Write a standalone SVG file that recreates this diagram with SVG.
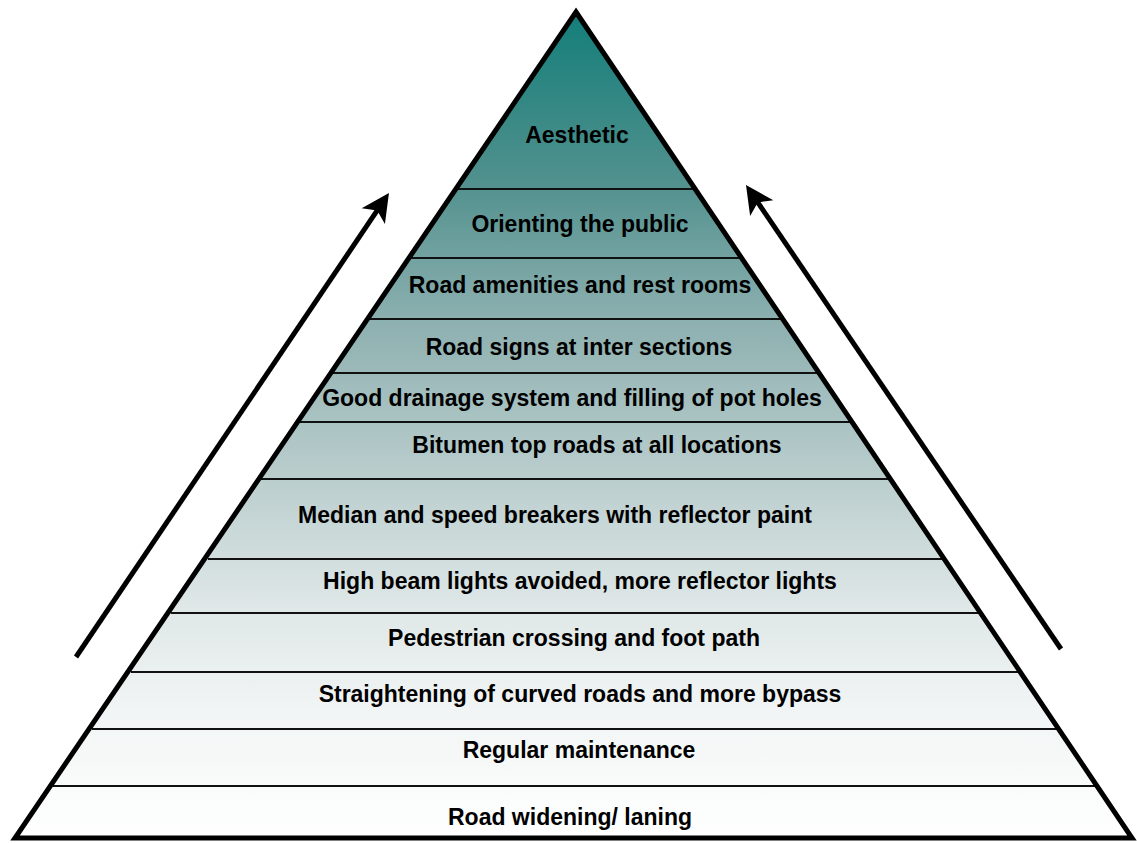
<svg xmlns="http://www.w3.org/2000/svg" width="1137" height="843" viewBox="0 0 1137 843">
<style>
.lbl{font-family:"Liberation Sans",Arial,sans-serif;font-weight:bold;font-size:23px;fill:#000;text-anchor:middle}
.div{stroke:#111;stroke-width:2;fill:none}
.arrow{stroke:#000;stroke-width:5;fill:none;marker-end:url(#ah)}
</style>
<defs>
<linearGradient id="g" x1="0" y1="12" x2="0" y2="838" gradientUnits="userSpaceOnUse">
<stop offset="0" stop-color="#137e79"/>
<stop offset="0.2" stop-color="#4f908d"/>
<stop offset="0.38" stop-color="#8fb1b1"/>
<stop offset="0.55" stop-color="#b7cbcb"/>
<stop offset="0.72" stop-color="#dfe7e7"/>
<stop offset="0.85" stop-color="#f2f5f5"/>
<stop offset="1" stop-color="#ffffff"/>
</linearGradient>
<marker id="ah" markerUnits="userSpaceOnUse" markerWidth="60" markerHeight="60" refX="0" refY="0" orient="auto" overflow="visible">
<path d="M18,0 L-10,-14 L-3,0 L-10,14 Z" fill="#000"/>
</marker>
</defs>
<rect width="1137" height="843" fill="#fff"/>
<g id="pyramid">
<polygon points="576,12 1132,838 15,838" fill="url(#g)"/>
<g id="dividers">
<line class="div" x1="456" y1="189" x2="695" y2="189"/>
<line class="div" x1="410" y1="258" x2="741" y2="258"/>
<line class="div" x1="369" y1="319" x2="782" y2="319"/>
<line class="div" x1="333" y1="373" x2="818" y2="373"/>
<line class="div" x1="300" y1="422" x2="851" y2="422"/>
<line class="div" x1="261" y1="479" x2="889" y2="479"/>
<line class="div" x1="208" y1="559" x2="942" y2="559"/>
<line class="div" x1="171" y1="613" x2="979" y2="613"/>
<line class="div" x1="131" y1="672" x2="1019" y2="672"/>
<line class="div" x1="92" y1="729" x2="1057" y2="729"/>
<line class="div" x1="53" y1="786" x2="1096" y2="786"/>
</g>
<polygon points="576,12 1132,838 15,838" fill="none" stroke="#000" stroke-width="5" stroke-linejoin="miter"/>
</g>
<g id="n1"><text class="lbl" x="577" y="143">Aesthetic</text></g>
<g id="n2"><text class="lbl" x="580" y="232">Orienting the public</text></g>
<g id="n3"><text class="lbl" x="580" y="293">Road amenities and rest rooms</text></g>
<g id="n4"><text class="lbl" x="579" y="355">Road signs at inter sections</text></g>
<g id="n5"><text class="lbl" x="572" y="406">Good drainage system and filling of pot holes</text></g>
<g id="n6"><text class="lbl" x="597" y="453">Bitumen top roads at all locations</text></g>
<g id="n7"><text class="lbl" x="555" y="523">Median and speed breakers with reflector paint</text></g>
<g id="n8"><text class="lbl" x="580" y="589">High beam lights avoided, more reflector lights</text></g>
<g id="n9"><text class="lbl" x="574" y="646">Pedestrian crossing and foot path</text></g>
<g id="n10"><text class="lbl" x="580" y="702">Straightening of curved roads and more bypass</text></g>
<g id="n11"><text class="lbl" x="579" y="758">Regular maintenance</text></g>
<g id="n12"><text class="lbl" x="570" y="825">Road widening/ laning</text></g>
<g id="connectors">
<path class="arrow" d="M76,657 L378.9,207.9"/>
<path class="arrow" d="M1061,649 L756.1,199.9"/>
</g>
</svg>
